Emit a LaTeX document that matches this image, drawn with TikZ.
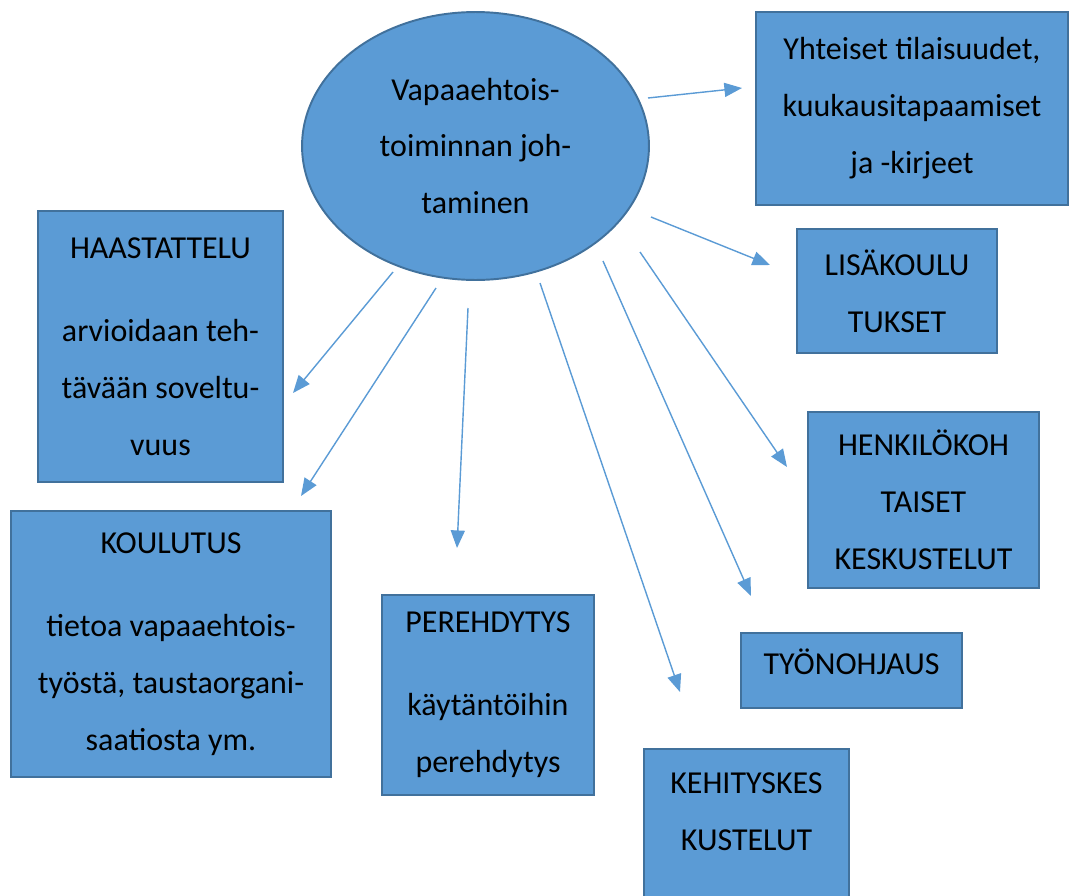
\documentclass[tikz,border=0pt]{standalone}
\usepackage{fontspec}
\setmainfont{Carlito}
\usetikzlibrary{arrows.meta,shapes.geometric}
\definecolor{boxblue}{HTML}{5B9BD5}
\definecolor{boxedge}{HTML}{41719C}

\begin{document}
\begin{tikzpicture}[>={Triangle[length=10pt,width=8pt]}, x=0.02cm, y=-0.02cm]
        \tikzset{box/.style={rectangle, draw=boxedge, line width=1.1pt, fill=boxblue, align=center, inner sep=0pt, font=\fontsize{18.2pt}{32.4pt}\selectfont}, hub/.style={ellipse, draw=boxedge, line width=1.1pt, fill=boxblue, align=center, inner sep=0pt, minimum width=6.94cm, minimum height=5.36cm, font=\fontsize{18.2pt}{32.4pt}\selectfont}, link/.style={->, draw=boxblue, line width=0.8pt}}
        \clip (0,0) rectangle (1069,896);
        \node[hub] (lead) at (475.5,146) {Vapaaehtois-\\toiminnan joh-\\taminen};
        \node[box, minimum width=6.24cm, minimum height=3.86cm] (yht) at (912,108.5) {Yhteiset tilaisuudet,\\kuukausitapaamiset\\ja -kirjeet};
        \node[box, minimum width=4.9cm, minimum height=5.42cm] (haas) at (160.5,346.5) {HAASTATTELU\\[15pt]arvioidaan teh-\\tävään soveltu-\\vuus};
        \node[box, minimum width=6.4cm, minimum height=5.32cm] (koul) at (171,644) {KOULUTUS\\[15pt]tietoa vapaaehtois-\\työstä, taustaorgani-\\saatiosta ym.};
        \node[box, minimum width=4.24cm, minimum height=4.0cm] (pere) at (488,695) {PEREHDYTYS\\[15pt]käytäntöihin\\perehdytys};
        \node[box, minimum width=4.0cm, minimum height=2.48cm] (lisa) at (897,291) {LISÄKOULU\\TUKSET};
        \node[box, minimum width=4.62cm, minimum height=3.52cm] (henk) at (923.5,500) {HENKILÖKOH\\TAISET\\KESKUSTELUT};
        \node[box, minimum width=4.42cm, minimum height=1.5cm, text depth=10pt] (tyon) at (851.5,670.5) {TYÖNOHJAUS};
        \node[box, minimum width=4.1cm, minimum height=4.8cm] (kehi) at (746.5,869) {KEHITYSKES\\KUSTELUT\\~\\~};
        % free-standing arrows, as in the sketch
        \coordinate (s1) at (648,98);  \coordinate (e1) at (742,88);
        \coordinate (s2) at (651,217); \coordinate (e2) at (770,265);
        \coordinate (s3) at (640,252); \coordinate (e3) at (787,467);
        \coordinate (s4) at (603,261); \coordinate (e4) at (751,596);
        \coordinate (s5) at (540,283); \coordinate (e5) at (680,692);
        \coordinate (s6) at (468,308); \coordinate (e6) at (457,548);
        \coordinate (s7) at (436,288); \coordinate (e7) at (301,496);
        \coordinate (s8) at (393,272); \coordinate (e8) at (293,393);
        \draw[link] (s1) -- (e1);
        \draw[link] (s2) -- (e2);
        \draw[link] (s3) -- (e3);
        \draw[link] (s4) -- (e4);
        \draw[link] (s5) -- (e5);
        \draw[link] (s6) -- (e6);
        \draw[link] (s7) -- (e7);
        \draw[link] (s8) -- (e8);
\end{tikzpicture}
\end{document}
